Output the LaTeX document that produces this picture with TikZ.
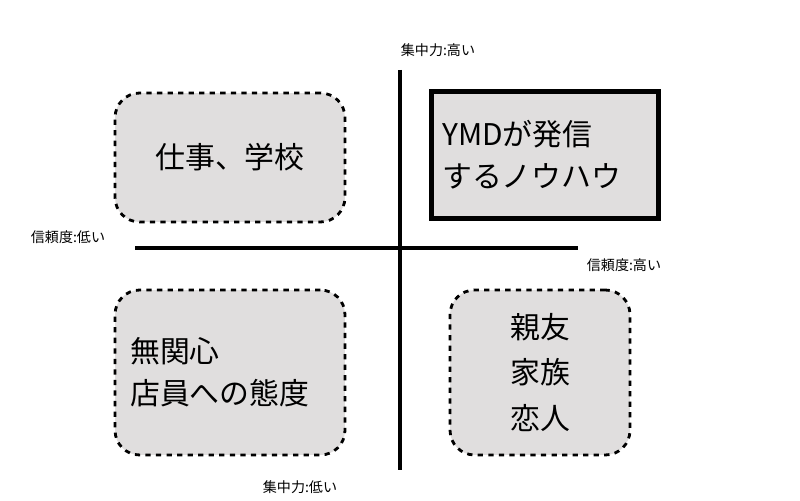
\documentclass[tikz,border=0pt]{standalone}
\usepackage{fontspec}
\setmainfont{Noto Sans CJK JP}
\usetikzlibrary{positioning}
\definecolor{boxgray}{HTML}{E0DEDE}
\tikzset{
    quad/.style={draw, dashed, line width=1.6pt, rounded corners=14pt, fill=boxgray},
    axis/.style={line width=2.2pt},
    big/.style={font=\fontsize{17}{24}\selectfont},
    small/.style={font=\fontsize{8}{10}\selectfont}
}
\begin{document}
\begin{tikzpicture}[x=0.02cm, y=-0.02cm]
    \useasboundingbox (0,0) rectangle (800,500);
    \coordinate (top)    at (400,70);
    \coordinate (bottom) at (400,470);
    \coordinate (left)   at (135,248);
    \coordinate (right)  at (578,248);
    \draw[axis] (top) -- (bottom);
    \draw[axis] (left) -- (right);
    \node[quad, minimum width=4.6cm, minimum height=2.58cm](work) at (230,157.5) {};
    \node[big] at (work) {仕事、学校};
    \node[draw, line width=2.6pt, fill=boxgray, minimum width=4.55cm, minimum height=2.55cm](ymd) at (545,155) {};
    \node[big, align=left, anchor=west] at (436,155) {YMDが発信\\するノウハウ};
    \node[quad, minimum width=4.6cm, minimum height=3.3cm](stranger) at (230,372.5) {};
    \node[big, align=left, anchor=west] at (124,372) {無関心\\店員への態度};
    \node[quad, minimum width=3.6cm, minimum height=3.3cm](close) at (540,372.5) {};
    \node[big, align=center, text height=, font=\fontsize{17}{26}\selectfont] at (close) {親友\\家族\\恋人};
    \node[small](focushigh) at (438,50) {集中力:高い};
    \node[small](trustlow) at (68,237) {信頼度:低い};
    \node[small](trusthigh) at (624,265) {信頼度:高い};
    \node[small](focuslow) at (300,487) {集中力:低い};
\end{tikzpicture}
\end{document}
